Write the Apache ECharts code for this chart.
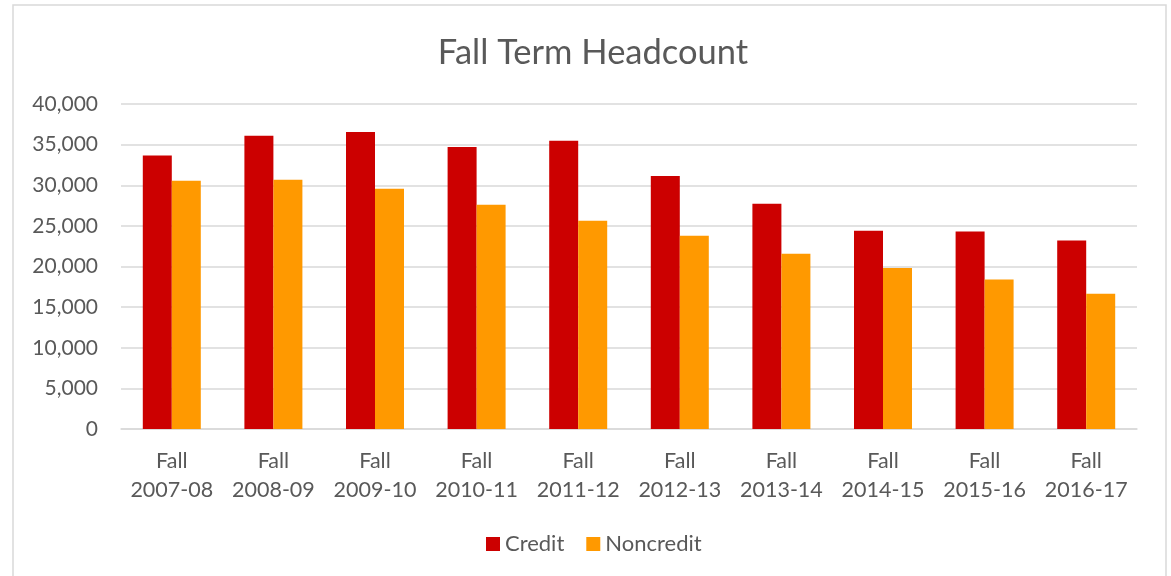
<!DOCTYPE html>
<html>
<head>
<meta charset="utf-8">
<script src="https://cdn.jsdelivr.net/npm/echarts@6/dist/echarts.min.js"></script>
<style>
  html, body { margin: 0; padding: 0; background: #fff; }
  #chart { width: 1171px; height: 576px; }
</style>
</head>
<body>
<div id="chart"></div>
<script>
// fall terms on the x axis
const terms = ["Fall\n2007-08", "Fall\n2008-09", "Fall\n2009-10", "Fall\n2010-11", "Fall\n2011-12",
  "Fall\n2012-13", "Fall\n2013-14", "Fall\n2014-15", "Fall\n2015-16", "Fall\n2016-17"];
// headcount
const credit = [33670, 36100, 36550, 34700, 35480, 31140, 27730, 24400, 24320, 23210];
const noncredit = [30560, 30680, 29580, 27600, 25640, 23790, 21580, 19820, 18410, 16650];
const yTicks = { min: 0, max: 40000, interval: 5000 };

const font = "Lato";
const grey = "#595959";

let chart = echarts.init(document.getElementById("chart"));
chart.setOption({
  backgroundColor: "#fff",
  textStyle: { fontFamily: font },
  graphic: [{
    type: "rect",
    shape: { x: 13, y: 5, width: 1153, height: 580 },
    style: { fill: "none", stroke: "#d9d9d9", lineWidth: 1.5 },
    silent: true,
  }],
  title: {
    text: "Fall Term Headcount",
    left: 588,
    textAlign: "center",
    top: 30,
    textStyle: { fontFamily: font, fontSize: 34.5, fontWeight: "normal", color: grey },
  },
  legend: {
    data: ["Credit", "Noncredit"],
    left: 486,
    top: 533,
    padding: 0,
    itemWidth: 14,
    itemHeight: 14,
    itemGap: 22,
    icon: "rect",
    textStyle: { fontFamily: font, fontSize: 22, color: grey },
  },
  grid: { left: 121, right: 34, top: 104, bottom: 147, containLabel: false },
  xAxis: {
    type: "category",
    data: terms,
    axisTick: { show: false },
    axisLine: { lineStyle: { color: "#d9d9d9", width: 1.5 } },
    axisLabel: { interval: 0, color: grey, fontSize: 21.5, lineHeight: 29, margin: 18, fontFamily: font },
  },
  yAxis: {
    type: "value",
    min: yTicks.min,
    max: yTicks.max,
    interval: yTicks.interval,
    axisLine: { show: false },
    axisTick: { show: false },
    splitLine: { lineStyle: { color: "#d9d9d9", width: 1.5 } },
    axisLabel: {
      color: grey, fontSize: 21, margin: 23, fontFamily: font,
      formatter: (v) => v.toLocaleString("en-US"),
    },
  },
  series: [
    {
      name: "Credit",
      type: "bar",
      data: credit,
      barWidth: 29,
      barGap: "0%",
      itemStyle: { color: "#cc0000" },
    },
    {
      name: "Noncredit",
      type: "bar",
      data: noncredit,
      barWidth: 29,
      itemStyle: { color: "#ff9900" },
    },
  ],
});
</script>
</body>
</html>
